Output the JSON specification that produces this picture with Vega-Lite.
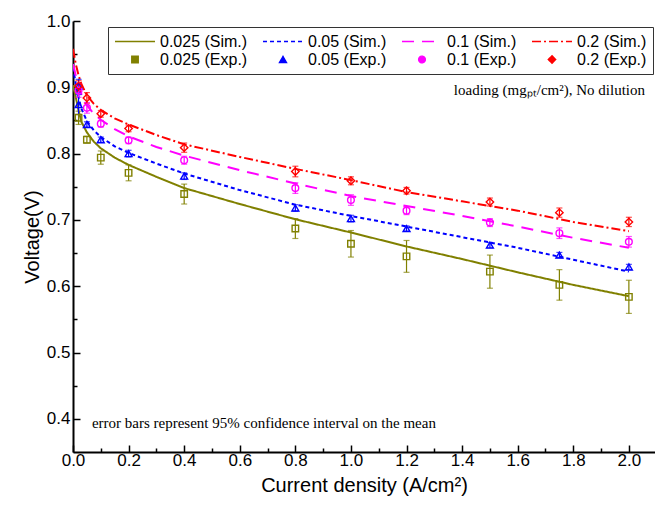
{
  "$schema": "https://vega.github.io/schema/vega-lite/v6.json",
  "width": 582,
  "height": 431,
  "autosize": {"type": "none"},
  "padding": {"left": 73, "top": 21, "right": 0, "bottom": 54},
  "config": {
    "view": {"stroke": null},
    "font": "Liberation Sans",
    "axis": {
      "domainColor": "#000",
      "domainWidth": 2,
      "tickColor": "#000",
      "tickWidth": 1.5,
      "labelColor": "#000",
      "labelFont": "Liberation Sans",
      "labelFontSize": 17,
      "titleFont": "Liberation Sans",
      "titleFontSize": 20,
      "titleFontWeight": "normal",
      "titleColor": "#000",
      "grid": false
    },
    "legend": {
      "labelFont": "Liberation Sans",
      "labelFontSize": 16,
      "labelColor": "#000",
      "strokeColor": "#333",
      "padding": 6,
      "columnPadding": 14,
      "rowPadding": 1,
      "labelOffset": 4,
      "clipHeight": 17,
      "symbolStrokeWidth": 1.4,
      "symbolFillColor": "transparent"
    }
  },
  "datasets": {
    "sim": [
      {"series": "0.025 (Sim.)", "x": 0, "v": 0.903},
      {"series": "0.025 (Sim.)", "x": 0.01, "v": 0.885},
      {"series": "0.025 (Sim.)", "x": 0.02, "v": 0.865},
      {"series": "0.025 (Sim.)", "x": 0.03, "v": 0.848},
      {"series": "0.025 (Sim.)", "x": 0.05, "v": 0.832},
      {"series": "0.025 (Sim.)", "x": 0.075, "v": 0.818},
      {"series": "0.025 (Sim.)", "x": 0.1, "v": 0.808},
      {"series": "0.025 (Sim.)", "x": 0.15, "v": 0.794},
      {"series": "0.025 (Sim.)", "x": 0.2, "v": 0.783},
      {"series": "0.025 (Sim.)", "x": 0.3, "v": 0.765},
      {"series": "0.025 (Sim.)", "x": 0.4, "v": 0.748},
      {"series": "0.025 (Sim.)", "x": 0.6, "v": 0.724},
      {"series": "0.025 (Sim.)", "x": 0.8, "v": 0.701},
      {"series": "0.025 (Sim.)", "x": 1.0, "v": 0.681},
      {"series": "0.025 (Sim.)", "x": 1.2, "v": 0.660},
      {"series": "0.025 (Sim.)", "x": 1.4, "v": 0.641},
      {"series": "0.025 (Sim.)", "x": 1.6, "v": 0.621},
      {"series": "0.025 (Sim.)", "x": 1.8, "v": 0.602},
      {"series": "0.025 (Sim.)", "x": 2.0, "v": 0.585},
      {"series": "0.05 (Sim.)", "x": 0, "v": 0.93},
      {"series": "0.05 (Sim.)", "x": 0.01, "v": 0.905},
      {"series": "0.05 (Sim.)", "x": 0.02, "v": 0.885},
      {"series": "0.05 (Sim.)", "x": 0.03, "v": 0.868},
      {"series": "0.05 (Sim.)", "x": 0.05, "v": 0.849},
      {"series": "0.05 (Sim.)", "x": 0.075, "v": 0.835},
      {"series": "0.05 (Sim.)", "x": 0.1, "v": 0.825},
      {"series": "0.05 (Sim.)", "x": 0.15, "v": 0.811},
      {"series": "0.05 (Sim.)", "x": 0.2, "v": 0.801},
      {"series": "0.05 (Sim.)", "x": 0.3, "v": 0.785},
      {"series": "0.05 (Sim.)", "x": 0.4, "v": 0.770},
      {"series": "0.05 (Sim.)", "x": 0.6, "v": 0.745},
      {"series": "0.05 (Sim.)", "x": 0.8, "v": 0.723},
      {"series": "0.05 (Sim.)", "x": 1.0, "v": 0.706},
      {"series": "0.05 (Sim.)", "x": 1.2, "v": 0.690},
      {"series": "0.05 (Sim.)", "x": 1.4, "v": 0.674},
      {"series": "0.05 (Sim.)", "x": 1.6, "v": 0.658},
      {"series": "0.05 (Sim.)", "x": 1.8, "v": 0.640},
      {"series": "0.05 (Sim.)", "x": 2.0, "v": 0.622},
      {"series": "0.1 (Sim.)", "x": 0, "v": 0.935},
      {"series": "0.1 (Sim.)", "x": 0.01, "v": 0.918},
      {"series": "0.1 (Sim.)", "x": 0.02, "v": 0.903},
      {"series": "0.1 (Sim.)", "x": 0.03, "v": 0.890},
      {"series": "0.1 (Sim.)", "x": 0.05, "v": 0.873},
      {"series": "0.1 (Sim.)", "x": 0.075, "v": 0.860},
      {"series": "0.1 (Sim.)", "x": 0.1, "v": 0.851},
      {"series": "0.1 (Sim.)", "x": 0.15, "v": 0.837},
      {"series": "0.1 (Sim.)", "x": 0.2, "v": 0.826},
      {"series": "0.1 (Sim.)", "x": 0.3, "v": 0.810},
      {"series": "0.1 (Sim.)", "x": 0.4, "v": 0.797},
      {"series": "0.1 (Sim.)", "x": 0.6, "v": 0.775},
      {"series": "0.1 (Sim.)", "x": 0.8, "v": 0.755},
      {"series": "0.1 (Sim.)", "x": 1.0, "v": 0.736},
      {"series": "0.1 (Sim.)", "x": 1.2, "v": 0.721},
      {"series": "0.1 (Sim.)", "x": 1.4, "v": 0.706},
      {"series": "0.1 (Sim.)", "x": 1.6, "v": 0.690},
      {"series": "0.1 (Sim.)", "x": 1.8, "v": 0.673},
      {"series": "0.1 (Sim.)", "x": 2.0, "v": 0.658},
      {"series": "0.2 (Sim.)", "x": 0, "v": 0.958},
      {"series": "0.2 (Sim.)", "x": 0.01, "v": 0.935},
      {"series": "0.2 (Sim.)", "x": 0.02, "v": 0.918},
      {"series": "0.2 (Sim.)", "x": 0.03, "v": 0.905},
      {"series": "0.2 (Sim.)", "x": 0.05, "v": 0.888},
      {"series": "0.2 (Sim.)", "x": 0.075, "v": 0.875},
      {"series": "0.2 (Sim.)", "x": 0.1, "v": 0.866},
      {"series": "0.2 (Sim.)", "x": 0.15, "v": 0.853},
      {"series": "0.2 (Sim.)", "x": 0.2, "v": 0.844},
      {"series": "0.2 (Sim.)", "x": 0.3, "v": 0.828},
      {"series": "0.2 (Sim.)", "x": 0.4, "v": 0.814},
      {"series": "0.2 (Sim.)", "x": 0.6, "v": 0.795},
      {"series": "0.2 (Sim.)", "x": 0.8, "v": 0.777},
      {"series": "0.2 (Sim.)", "x": 1.0, "v": 0.760},
      {"series": "0.2 (Sim.)", "x": 1.2, "v": 0.742},
      {"series": "0.2 (Sim.)", "x": 1.4, "v": 0.728},
      {"series": "0.2 (Sim.)", "x": 1.6, "v": 0.714},
      {"series": "0.2 (Sim.)", "x": 1.8, "v": 0.697},
      {"series": "0.2 (Sim.)", "x": 2.0, "v": 0.683}
    ],
    "exp": [
      {"series": "0.025 (Exp.)", "x": 0.02, "v": 0.854, "err": 0.010},
      {"series": "0.025 (Exp.)", "x": 0.05, "v": 0.821, "err": 0.005},
      {"series": "0.025 (Exp.)", "x": 0.1, "v": 0.794, "err": 0.010},
      {"series": "0.025 (Exp.)", "x": 0.2, "v": 0.771, "err": 0.012},
      {"series": "0.025 (Exp.)", "x": 0.4, "v": 0.739, "err": 0.015},
      {"series": "0.025 (Exp.)", "x": 0.8, "v": 0.687, "err": 0.015},
      {"series": "0.025 (Exp.)", "x": 1.0, "v": 0.664, "err": 0.020},
      {"series": "0.025 (Exp.)", "x": 1.2, "v": 0.645, "err": 0.024},
      {"series": "0.025 (Exp.)", "x": 1.5, "v": 0.622, "err": 0.025},
      {"series": "0.025 (Exp.)", "x": 1.75, "v": 0.602, "err": 0.023},
      {"series": "0.025 (Exp.)", "x": 2.0, "v": 0.584, "err": 0.025},
      {"series": "0.05 (Exp.)", "x": 0.02, "v": 0.902, "err": 0.010},
      {"series": "0.05 (Exp.)", "x": 0.02, "v": 0.874, "err": 0.015},
      {"series": "0.05 (Exp.)", "x": 0.05, "v": 0.844, "err": 0.004},
      {"series": "0.05 (Exp.)", "x": 0.1, "v": 0.821, "err": 0.004},
      {"series": "0.05 (Exp.)", "x": 0.2, "v": 0.800, "err": 0.005},
      {"series": "0.05 (Exp.)", "x": 0.4, "v": 0.766, "err": 0.005},
      {"series": "0.05 (Exp.)", "x": 0.8, "v": 0.718, "err": 0.005},
      {"series": "0.05 (Exp.)", "x": 1.0, "v": 0.702, "err": 0.005},
      {"series": "0.05 (Exp.)", "x": 1.2, "v": 0.687, "err": 0.004},
      {"series": "0.05 (Exp.)", "x": 1.5, "v": 0.662, "err": 0.004},
      {"series": "0.05 (Exp.)", "x": 1.75, "v": 0.647, "err": 0.004},
      {"series": "0.05 (Exp.)", "x": 2.0, "v": 0.629, "err": 0.004},
      {"series": "0.1 (Exp.)", "x": 0.02, "v": 0.895, "err": 0.010},
      {"series": "0.1 (Exp.)", "x": 0.05, "v": 0.869, "err": 0.008},
      {"series": "0.1 (Exp.)", "x": 0.1, "v": 0.845, "err": 0.005},
      {"series": "0.1 (Exp.)", "x": 0.2, "v": 0.820, "err": 0.005},
      {"series": "0.1 (Exp.)", "x": 0.4, "v": 0.790, "err": 0.006},
      {"series": "0.1 (Exp.)", "x": 0.8, "v": 0.748, "err": 0.008},
      {"series": "0.1 (Exp.)", "x": 1.0, "v": 0.730, "err": 0.008},
      {"series": "0.1 (Exp.)", "x": 1.2, "v": 0.714, "err": 0.006},
      {"series": "0.1 (Exp.)", "x": 1.5, "v": 0.696, "err": 0.006},
      {"series": "0.1 (Exp.)", "x": 1.75, "v": 0.680, "err": 0.008},
      {"series": "0.1 (Exp.)", "x": 2.0, "v": 0.667, "err": 0.008},
      {"series": "0.2 (Exp.)", "x": 0.02, "v": 0.902, "err": 0.008},
      {"series": "0.2 (Exp.)", "x": 0.05, "v": 0.884, "err": 0.008},
      {"series": "0.2 (Exp.)", "x": 0.1, "v": 0.860, "err": 0.005},
      {"series": "0.2 (Exp.)", "x": 0.2, "v": 0.838, "err": 0.005},
      {"series": "0.2 (Exp.)", "x": 0.4, "v": 0.809, "err": 0.007},
      {"series": "0.2 (Exp.)", "x": 0.8, "v": 0.773, "err": 0.008},
      {"series": "0.2 (Exp.)", "x": 1.0, "v": 0.759, "err": 0.006},
      {"series": "0.2 (Exp.)", "x": 1.2, "v": 0.744, "err": 0.005},
      {"series": "0.2 (Exp.)", "x": 1.5, "v": 0.727, "err": 0.006},
      {"series": "0.2 (Exp.)", "x": 1.75, "v": 0.711, "err": 0.007},
      {"series": "0.2 (Exp.)", "x": 2.0, "v": 0.697, "err": 0.007}
    ]
  },
  "encoding": {
    "x": {
      "field": "x", "type": "quantitative",
      "scale": {"domain": [0, 2.094], "nice": false, "zero": false},
      "axis": {
        "title": "Current density (A/cm²)",
        "values": [0, 0.1, 0.2, 0.3, 0.4, 0.5, 0.6, 0.7, 0.8, 0.9, 1.0, 1.1, 1.2, 1.3, 1.4, 1.5, 1.6, 1.7, 1.8, 1.9, 2.0],
        "labelExpr": "round(datum.value*10) % 2 == 0 ? format(datum.value, '.1f') : ''",
        "tickSize": {"condition": {"test": "round(datum.value*10) % 2 == 0", "value": -7}, "value": -4},
        "labelPadding": 7,
        "titlePadding": 4,
        "labelFlush": false,
        "labelOverlap": false
      }
    },
    "y": {
      "field": "v", "type": "quantitative",
      "scale": {"domain": [0.35, 1.0], "nice": false, "zero": false},
      "axis": {
        "title": "Voltage(V)",
        "values": [0.4, 0.45, 0.5, 0.55, 0.6, 0.65, 0.7, 0.75, 0.8, 0.85, 0.9, 0.95, 1.0],
        "labelExpr": "round(datum.value*20) % 2 == 0 ? format(datum.value, '.1f') : ''",
        "tickSize": {"condition": {"test": "round(datum.value*20) % 2 == 0", "value": -7}, "value": -4},
        "labelPadding": 10,
        "titlePadding": 4,
        "labelFlush": false,
        "labelOverlap": false
      }
    }
  },
  "layer": [
    {
      "data": {"name": "sim"},
      "mark": {"type": "line", "strokeWidth": 2, "clip": true},
      "encoding": {
        "color": {
          "field": "series", "type": "nominal",
          "scale": {
            "domain": ["0.025 (Sim.)", "0.05 (Sim.)", "0.1 (Sim.)", "0.2 (Sim.)", "0.025 (Exp.)", "0.05 (Exp.)", "0.1 (Exp.)", "0.2 (Exp.)"],
            "range": ["#808000", "#0000ff", "#ff00ff", "#ff0000", "#808000", "#0000ff", "#ff00ff", "#ff0000"]
          },
          "legend": {"title": null, "orient": "none", "legendX": 35, "legendY": 6, "columns": 4, "direction": "horizontal", "strokeColor": "#333", "clipHeight": 17, "symbolFillColor": "transparent",
            "encode": {"symbols": {"update": {"fill": {"value": "transparent"}}}}}
        },
        "strokeDash": {
          "field": "series", "type": "nominal",
          "scale": {
            "domain": ["0.025 (Sim.)", "0.05 (Sim.)", "0.1 (Sim.)", "0.2 (Sim.)", "0.025 (Exp.)", "0.05 (Exp.)", "0.1 (Exp.)", "0.2 (Exp.)"],
            "range": [[1, 0], [4, 3], [12, 8], [9, 3, 2, 3], [1, 0], [1, 0], [1, 0], [1, 0]]
          },
          "legend": {"title": null, "orient": "none", "legendX": 35, "legendY": 6, "columns": 4, "direction": "horizontal", "strokeColor": "#333", "clipHeight": 17, "symbolFillColor": "transparent",
            "encode": {"symbols": {"update": {"fill": {"value": "transparent"}}}}}
        },
        "detail": {"field": "series"}
      }
    },
    {
      "data": {"name": "exp"},
      "mark": {"type": "errorbar", "ticks": {"size": 6}, "thickness": 1.2},
      "encoding": {
        "yError": {"field": "err"},
        "color": {"field": "series", "type": "nominal", "legend": null}
      }
    },
    {
      "data": {"name": "exp"},
      "mark": {"type": "point", "filled": false, "strokeWidth": 1.4, "opacity": 1},
      "encoding": {
        "color": {"field": "series", "type": "nominal"},
        "shape": {
          "field": "series", "type": "nominal",
          "scale": {
            "domain": ["0.025 (Sim.)", "0.05 (Sim.)", "0.1 (Sim.)", "0.2 (Sim.)", "0.025 (Exp.)", "0.05 (Exp.)", "0.1 (Exp.)", "0.2 (Exp.)"],
            "range": ["stroke", "stroke", "stroke", "stroke", "square", "triangle-up", "circle", "diamond"]
          },
          "legend": {"title": null, "orient": "none", "legendX": 35, "legendY": 6, "columns": 4, "direction": "horizontal", "strokeColor": "#333", "clipHeight": 17, "symbolFillColor": "transparent",
            "encode": {"symbols": {"update": {"fill": {"value": "transparent"}}}}}
        },
        "size": {
          "field": "series", "type": "nominal",
          "scale": {
            "type": "ordinal",
            "domain": ["0.025 (Sim.)", "0.05 (Sim.)", "0.1 (Sim.)", "0.2 (Sim.)", "0.025 (Exp.)", "0.05 (Exp.)", "0.1 (Exp.)", "0.2 (Exp.)"],
            "range": [1600, 1600, 1600, 1600, 42, 48, 45, 55]
          },
          "legend": {"title": null, "orient": "none", "legendX": 35, "legendY": 6, "columns": 4, "direction": "horizontal", "strokeColor": "#333", "clipHeight": 17, "symbolFillColor": "transparent",
            "encode": {"symbols": {"update": {"fill": {"value": "transparent"}}}}}
        }
      }
    },
    {
      "data": {"values": [{"x": 2.058, "v": 0.896, "label": "loading (mgₚₜ/cm²), No dilution"}]},
      "mark": {"type": "text", "font": "Liberation Serif", "fontSize": 15, "baseline": "middle", "align": "right", "color": "#000"},
      "encoding": {"text": {"field": "label"}}
    },
    {
      "data": {"values": [{"x": 0.068, "v": 0.394, "label": "error bars represent 95% confidence interval on the mean"}]},
      "mark": {"type": "text", "font": "Liberation Serif", "fontSize": 15, "baseline": "middle", "align": "left", "color": "#000"},
      "encoding": {"text": {"field": "label"}}
    },
    {
      "mark": {"type": "rule", "strokeWidth": 2, "color": "#000"},
      "encoding": {"y": {"datum": 1.0}, "x": null}
    }
  ]
}
